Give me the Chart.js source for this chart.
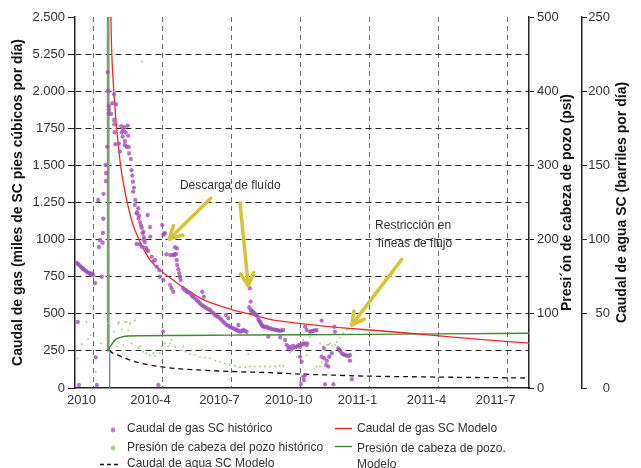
<!DOCTYPE html>
<html>
<head>
<meta charset="utf-8">
<script src="https://cdn.jsdelivr.net/npm/chart.js@4/dist/chart.umd.min.js"></script>
<style>
html,body{margin:0;padding:0;background:#fff;overflow:hidden;}
#wrap{position:relative;width:641px;height:468px;overflow:hidden;font-family:"Liberation Sans",Arial,sans-serif;}
#c{position:absolute;left:0;top:0;}
.lg{position:absolute;font-size:12px;color:#333;white-space:nowrap;line-height:14px;}
.lg.wrap{white-space:normal;width:170px;line-height:16px;}
.mk{position:absolute;}
</style>
</head>
<body>
<div id="wrap">
  <canvas id="c" width="641" height="468"></canvas>
  <div id="legend"></div>
</div>
<script>
// x values are months counted from 1 Jan 2010
const xTickMonths = [0, 3, 6, 9, 12, 15, 18];
const xTickLabels = ['2010', '2010-4', '2010-7', '2010-10', '2011-1', '2011-4', '2011-7'];
const gasTickLabels = ['0', '250', '500', '750', '1000', '1.250', '1.500', '1750', '2.000', '5.250', '2.500'];

// [month, miles de pies cúbicos por día]
const gasHistorico = [
  [-0.72,842],[-0.68,445],[-0.66,835],[-0.63,20],[-0.60,826],[-0.55,818],[-0.50,810],[-0.45,803],[-0.40,798],
  [-0.35,791],[-0.30,785],[-0.25,779],[-0.20,776],[-0.15,770],[-0.10,766],[-0.05,772],[0.00,760],[0.07,708],
  [0.10,207],[0.15,20],[0.21,1267],[0.24,950],[0.28,997],[0.36,750],[0.40,979],[0.41,1045],[0.43,1141],
  [0.44,1308],[0.53,1503],[0.54,1395],[0.55,1449],[0.60,1626],[0.62,2128],[0.64,2002],[0.66,1850],[0.67,1900],
  [0.68,1875],[0.77,1847],[0.82,1919],[0.89,1806],[0.90,1979],[0.91,1777],[0.92,1723],[0.95,1643],[0.99,1912],
  [1.10,1647],[1.15,1593],[1.21,1764],[1.23,1723],[1.27,1694],[1.30,1739],[1.34,1757],[1.36,1638],[1.37,1665],
  [1.40,1723],[1.44,1626],[1.49,1768],[1.51,1700],[1.54,1624],[1.55,1582],[1.63,1543],[1.66,1467],[1.69,1431],
  [1.72,1390],[1.73,1323],[1.76,1350],[1.80,1233],[1.82,1267],[1.88,1177],[1.88,971],[1.90,1184],[1.95,1211],
  [1.96,1144],[1.98,1161],[2.02,968],[2.03,1117],[2.07,1094],[2.10,1080],[2.11,952],[2.14,1043],[2.17,1053],
  [2.18,997],[2.20,1016],[2.24,982],[2.28,946],[2.31,930],[2.36,1166],[2.38,923],[2.46,1085],[2.47,1020],
  [2.53,885],[2.60,851],[2.67,863],[2.75,818],[2.82,20],[2.86,795],[2.89,750],[2.99,1099],[3.03,1031],
  [3.04,728],[3.03,379],[3.07,1040],[3.11,1043],[3.17,901],[3.33,694],[3.34,896],[3.40,672],[3.43,896],
  [3.47,649],[3.50,896],[3.54,901],[3.55,948],[3.59,903],[3.62,863],[3.63,941],[3.64,829],[3.69,800],
  [3.73,773],[3.76,750],[3.79,728],[3.90,672],[3.97,660],[4.05,649],[4.12,645],[4.20,638],[4.27,622],
  [4.34,615],[4.41,604],[4.49,593],[4.56,582],[4.63,571],[4.70,560],[4.73,649],[4.77,553],[4.80,615],
  [4.85,545],[4.92,537],[5.00,530],[5.07,526],[5.14,514],[5.21,503],[5.28,494],[5.36,485],[5.43,478],
  [5.50,470],[5.57,458],[5.64,447],[5.71,436],[5.76,492],[5.79,425],[5.86,470],[5.87,419],[5.93,413],
  [6.00,408],[6.08,402],[6.15,396],[6.22,391],[6.29,386],[6.30,425],[6.37,379],[6.44,384],[6.51,391],
  [6.58,386],[6.66,379],[6.77,544],[6.80,672],[6.83,582],[6.84,526],[6.87,520],[6.92,514],[6.97,507],
  [7.02,499],[7.07,492],[7.12,485],[7.17,463],[7.20,455],[7.24,447],[7.27,436],[7.31,425],[7.36,418],
  [7.41,413],[7.47,410],[7.53,413],[7.60,346],[7.60,405],[7.67,402],[7.74,398],[7.82,395],[7.90,393],
  [7.97,391],[8.04,388],[8.11,386],[8.12,342],[8.18,388],[8.25,391],[8.33,324],[8.40,290],[8.47,268],
  [8.54,278],[8.62,261],[8.68,283],[8.76,275],[8.83,278],[8.90,286],[8.98,290],[8.99,278],[8.98,211],
  [9.02,27],[9.05,177],[9.12,295],[9.13,301],[9.12,76],[9.15,54],[9.20,413],[9.20,88],[9.27,290],
  [9.27,391],[9.28,301],[9.41,379],[9.48,383],[9.56,386],[9.63,388],[9.70,391],[9.92,454],[9.92,211],
  [10.02,268],[10.03,200],[10.07,25],[10.11,155],[10.14,184],[10.21,144],[10.25,211],[10.36,234],[10.43,25],
  [10.47,413],[10.50,379],[10.64,268],[10.68,258],[10.72,251],[10.79,234],[10.86,228],[10.93,222],[11.00,218],
  [11.08,216],[11.15,222],[11.15,184],[11.23,59]
];

// [month, psi]
const presionHistorica = [
  [-0.69,40],[-0.51,59],[-0.30,89],[-0.23,66],[-0.12,71],[0.10,22],[0.33,60],[0.64,87],[0.72,83],[0.90,76],
  [1.01,56],[1.08,87],[1.11,89],[1.23,79],[1.30,58],[1.37,89],[1.44,89],[1.51,78],[1.59,87],[1.66,60],
  [1.80,91],[1.95,54],[2.02,56],[2.11,440],[2.17,49],[2.31,47],[2.46,44],[2.60,47],[2.67,43],[2.89,47],
  [2.96,56],[3.11,60],[3.25,56],[3.33,60],[3.40,65],[3.55,55],[3.76,51],[3.90,56],[4.00,49],[4.20,46],
  [4.40,45],[4.63,42],[4.70,52],[4.85,41],[5.07,40],[5.30,37],[5.50,35],[5.70,33],[5.93,31],[6.15,30],
  [6.37,28],[6.60,28],[6.73,46],[6.80,29],[7.00,29],[7.24,29],[7.45,29],[7.67,29],[7.90,29],[8.10,30],
  [8.25,30],[8.54,48],[8.83,42],[8.98,42],[9.12,65],[9.27,44],[9.41,69],[9.70,29],[9.85,29],[9.85,60],
  [9.92,35],[9.99,56],[10.14,58],[10.21,58],[10.28,60],[10.36,57],[10.50,58],[10.57,62],[10.72,68],
  [10.86,74],[11.01,78]
];

// model curves
const gasModelo = [
  [0.74,2750],[0.77,2420],[0.79,2290],[0.86,2065],[0.93,1900],[1.01,1750],[1.08,1640],[1.18,1500],
  [1.30,1380],[1.47,1250],[1.70,1110],[1.98,1000],[2.24,919],[2.46,863],[2.89,795],[3.27,750],[3.63,708],
  [4.20,650],[4.77,595],[5.80,539],[6.80,497],[7.67,463],[9.12,432],[10.57,409],[11.59,396],[13.76,369],
  [15.50,344],[17.20,322],[18.93,303]
];
const presionModelo = [
  [0.640,560],[0.645,50],[0.67,53],[0.72,55.5],[0.79,58.5],[0.93,64.5],[1.15,68],[1.51,70],[2.10,70.5],
  [3.54,70.8],[6.0,71.2],[9.0,71.7],[12.0,72.3],[15.0,73.0],[18.93,73.7]
];
const aguaModelo = [
  [0.705,0],[0.71,25.5],[0.75,24.6],[0.85,23.4],[1.08,22.0],[1.51,19.3],[2.10,16.6],[2.82,14.6],
  [3.40,13.4],[4.77,12.0],[6.22,11.0],[7.67,10.3],[9.12,9.3],[10.57,8.6],[11.59,8.1],[13.76,7.6],[18.93,6.7]
];

// callouts, in data units (month, gas)
const noteArrows = [
  {from: [5.10, 1279], to: [3.30, 1004]},
  {from: [6.37, 1249], to: [6.73, 690]},
  {from: [13.40, 867], to: [11.23, 425]}
];
const noteTexts = [
  {at: [3.76, 1361], text: 'Descarga de fluído'},
  {at: [12.24, 1092], text: 'Restricción en'},
  {at: [12.37, 971], text: 'líneas de flujo'}
];

const FONT = '"Liberation Sans", Arial, sans-serif';
const toXY = arr => arr.map(p => ({x: p[0], y: p[1]}));

const COL_GAS_PTS = 'rgba(160,80,185,0.8)';
const COL_PRES_PTS = '#93cf72';
const COL_GAS_LINE = '#f02a2a';
const COL_PRES_LINE = '#3f8a35';

Chart.defaults.font.family = FONT;
Chart.defaults.color = '#333';

const extras = {
  id: 'extras',
  afterDatasetsDraw(chart) {
    const {ctx} = chart;
    const x = chart.scales.x, y = chart.scales.y;
    ctx.save();
    ctx.strokeStyle = '#d8c235';
    ctx.lineWidth = 3.5;
    ctx.lineCap = 'round';
    ctx.lineJoin = 'round';
    noteArrows.forEach(a => {
      const x1 = x.getPixelForValue(a.from[0]), y1 = y.getPixelForValue(a.from[1]);
      const x2 = x.getPixelForValue(a.to[0]), y2 = y.getPixelForValue(a.to[1]);
      const ang = Math.atan2(y2 - y1, x2 - x1), L = 14, w = 0.5;
      ctx.beginPath(); ctx.moveTo(x1, y1); ctx.lineTo(x2, y2); ctx.stroke();
      ctx.beginPath();
      ctx.moveTo(x2 - L * Math.cos(ang - w), y2 - L * Math.sin(ang - w));
      ctx.lineTo(x2, y2);
      ctx.lineTo(x2 - L * Math.cos(ang + w), y2 - L * Math.sin(ang + w));
      ctx.stroke();
    });
    ctx.fillStyle = '#333';
    ctx.font = '12px ' + FONT;
    ctx.textBaseline = 'middle';
    ctx.textAlign = 'left';
    noteTexts.forEach(t => ctx.fillText(t.text, x.getPixelForValue(t.at[0]), y.getPixelForValue(t.at[1])));
    ctx.restore();
  },
  afterDraw(chart) {
    // right-hand axis titles, read bottom to top
    const {ctx, chartArea} = chart;
    const midY = (chartArea.top + chartArea.bottom) / 2;
    const titles = [
      {scale: chart.scales.yP, dx: 38, text: 'Presi\u00b4ón de cabeza de pozo (psi)'},
      {scale: chart.scales.yW, dx: 40, text: 'Caudal de agua SC (barriles por día)'}
    ];
    ctx.save();
    ctx.fillStyle = '#111';
    ctx.font = 'bold 14px ' + FONT;
    ctx.textAlign = 'center';
    ctx.textBaseline = 'middle';
    titles.forEach(t => {
      ctx.save();
      ctx.translate(t.scale.left + t.dx, midY);
      ctx.rotate(-Math.PI / 2);
      ctx.fillText(t.text, 0, 0);
      ctx.restore();
    });
    ctx.restore();
  }
};

const chart = new Chart(document.getElementById('c'), {
  type: 'line',
  data: {
    datasets: [
      {
        label: 'Caudal de gas SC histórico', data: toXY(gasHistorico), yAxisID: 'y',
        showLine: false, pointStyle: 'star', pointRadius: 2.2, pointBorderWidth: 1.2,
        pointBorderColor: COL_GAS_PTS, pointBackgroundColor: COL_GAS_PTS, order: 1
      },
      {
        label: 'Presión de cabeza del pozo histórico', data: toXY(presionHistorica), yAxisID: 'yP',
        showLine: false, pointStyle: 'circle', pointRadius: 0.9, pointBorderWidth: 0,
        pointBackgroundColor: COL_PRES_PTS, order: 2
      },
      {
        label: 'Caudal de agua SC Modelo', data: toXY(aguaModelo), yAxisID: 'yW',
        borderColor: '#111', borderWidth: 1.3, borderDash: [5, 4], pointRadius: 0, fill: false,
        cubicInterpolationMode: 'monotone', clip: 0,
        segment: {
          borderColor: c => c.p0DataIndex === 0 ? '#5a83ad' : undefined,
          borderDash: c => c.p0DataIndex === 0 ? [] : undefined
        },
        order: 5
      },
      {
        label: 'Caudal de gas SC Modelo', data: toXY(gasModelo), yAxisID: 'y',
        borderColor: COL_GAS_LINE, borderWidth: 1.3, pointRadius: 0, fill: false,
        cubicInterpolationMode: 'monotone', clip: 0, order: 3
      },
      {
        label: 'Presión de cabeza de pozo. Modelo', data: toXY(presionModelo), yAxisID: 'yP',
        borderColor: COL_PRES_LINE, borderWidth: 1.4, pointRadius: 0, fill: false,
        cubicInterpolationMode: 'monotone', clip: 0,
        segment: {
          borderColor: c => c.p0DataIndex === 0 ? '#7f9e70' : undefined,
          borderWidth: c => c.p0DataIndex === 0 ? 2.8 : undefined
        },
        order: 4
      }
    ]
  },
  options: {
    responsive: false,
    animation: false,
    devicePixelRatio: 1,
    layout: {padding: {top: 17, left: 0, right: 31, bottom: 0}},
    plugins: {legend: {display: false}, tooltip: {enabled: false}},
    scales: {
      x: {
        type: 'linear', min: -0.80, max: 18.93,
        afterBuildTicks: s => { s.ticks = xTickMonths.map(v => ({value: v})); },
        ticks: {
          callback: (v, i) => xTickLabels[i], labelOffset: -12, padding: 5,
          color: '#333', font: {size: 13}, maxRotation: 0, autoSkip: false
        },
        grid: {color: '#6a6a6a', drawTicks: false, lineWidth: 1},
        border: {display: true, color: '#222', width: 1.5, dash: [5, 4]},
        afterFit: s => { s.height = 80; }
      },
      y: {
        position: 'left', min: 0, max: 2500,
        ticks: {stepSize: 250, callback: v => gasTickLabels[Math.round(v / 250)], padding: 3, color: '#333', font: {size: 13}},
        grid: {
          color: c => (c.tick && (c.tick.value === 0 || c.tick.value === 2500)) ? 'rgba(0,0,0,0)' : '#262626',
          tickColor: '#222', tickLength: 7, lineWidth: 1
        },
        border: {display: true, color: '#222', width: 1.5, dash: [6, 4]},
        title: {
          display: true, text: 'Caudal de gas (miles de SC pies cúbicos por día)',
          font: {size: 14, weight: 'bold'}, color: '#111', padding: {top: 10, bottom: 0}
        },
        afterFit: s => { s.width = 75; }
      },
      yP: {
        position: 'right', min: 0, max: 500,
        ticks: {stepSize: 100, padding: 3, color: '#333', font: {size: 13}},
        grid: {drawOnChartArea: false, tickLength: 5, tickColor: '#222'},
        border: {display: true, color: '#222', width: 1.5},
        afterFit: s => { s.width = 53; }
      },
      yW: {
        position: 'right', min: 0, max: 250,
        ticks: {stepSize: 50, padding: 1, crossAlign: 'far', color: '#333', font: {size: 13}},
        grid: {drawOnChartArea: false, tickLength: 5, tickColor: '#222'},
        border: {display: true, color: '#222', width: 1.5},
        afterFit: s => { s.width = 28; }
      }
    }
  },
  plugins: [extras]
});

// legend below the plot, two columns
(function buildLegend() {
  const host = document.getElementById('legend');
  const ds = chart.data.datasets;
  const entries = [
    {i: 0, kind: 'star', color: COL_GAS_PTS, mx: 113, my: 430, tx: 127, ty: 421},
    {i: 1, kind: 'star', color: COL_PRES_PTS, mx: 113, my: 448, tx: 127, ty: 440},
    {i: 2, kind: 'dash', color: '#111', mx: 100, my: 464, tx: 127, ty: 456},
    {i: 3, kind: 'line', color: COL_GAS_LINE, mx: 335, my: 428, tx: 357, ty: 421},
    {i: 4, kind: 'line', color: COL_PRES_LINE, mx: 335, my: 446, tx: 357, ty: 440, wrap: true}
  ];
  entries.forEach(e => {
    const mk = document.createElement('canvas');
    mk.className = 'mk';
    mk.width = 20; mk.height = 10;
    mk.style.left = (e.kind === 'star' ? e.mx - 10 : e.mx) + 'px';
    mk.style.top = (e.my - 5) + 'px';
    const g = mk.getContext('2d');
    g.strokeStyle = e.color;
    if (e.kind === 'star') {
      g.lineWidth = 1.2;
      const r = 2.4, cx = 10, cy = 5;
      g.beginPath();
      for (let k = 0; k < 4; k++) {
        const a = k * Math.PI / 4;
        g.moveTo(cx - r * Math.cos(a), cy - r * Math.sin(a));
        g.lineTo(cx + r * Math.cos(a), cy + r * Math.sin(a));
      }
      g.stroke();
    } else {
      g.lineWidth = e.kind === 'dash' ? 1.3 : 1.4;
      if (e.kind === 'dash') g.setLineDash([4, 3]);
      g.beginPath(); g.moveTo(0, 5.5); g.lineTo(e.kind === 'dash' ? 18 : 17, 5.5); g.stroke();
    }
    host.appendChild(mk);
    const t = document.createElement('div');
    t.className = 'lg' + (e.wrap ? ' wrap' : '');
    t.style.left = e.tx + 'px';
    t.style.top = e.ty + 'px';
    t.textContent = ds[e.i].label;
    host.appendChild(t);
  });
})();
</script>
</body>
</html>
